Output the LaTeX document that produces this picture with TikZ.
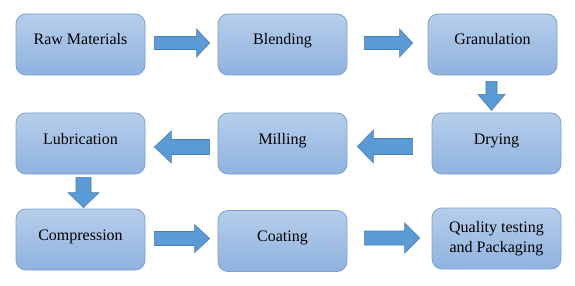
\documentclass[tikz,border=0pt]{standalone}
\usepackage{fontspec}
\setmainfont{Liberation Serif}
\usetikzlibrary{calc}
\definecolor{boxtop}{HTML}{B6CEEB}
\definecolor{boxbot}{HTML}{8FB2DF}
\definecolor{boxline}{HTML}{7BA1D1}
\definecolor{arrfill}{HTML}{5B9BD5}
\definecolor{arrline}{HTML}{4A7EB4}
\newcommand\blockarrow[5]{% from #1 to #2, shaft half width #3, head half width #4, head length #5
  \coordinate (neck) at ($(#2)!#5pt!(#1)$);
  \draw[arrowbody] ($(#1)!#3pt!90:(#2)$) -- ($(neck)!#3pt!90:(#2)$) -- ($(neck)!#4pt!90:(#2)$)
    -- (#2) -- ($(neck)!#4pt!-90:(#2)$) -- ($(neck)!#3pt!-90:(#2)$) -- ($(#1)!#3pt!-90:(#2)$) -- cycle;}
\begin{document}
\begin{tikzpicture}[x=1pt,y=-1pt,
  stepbox/.style={draw=boxline, line width=0.8pt, rounded corners=10pt,
    top color=boxtop, bottom color=boxbot, minimum width=129pt, minimum height=61pt,
    inner sep=0pt, font=\fontsize{16}{19.4}\selectfont},
  oneline/.style={text height=11.5pt, text depth=10.5pt},
  arrowbody/.style={fill=arrfill, draw=arrline, line width=0.6pt, line join=miter}]
\useasboundingbox[fill=white] (0,0) rectangle (575,286);

\node[stepbox, oneline] (rm) at (80.5,44.5) {Raw Materials};
\node[stepbox, oneline] (bl) at (282.5,44.5) {Blending};
\node[stepbox, oneline] (gr) at (492.5,44.5) {Granulation};
\node[stepbox, oneline] (dr) at (496.5,143.5) {Drying};
\node[stepbox, oneline] (mi) at (282.5,143.5) {Milling};
\node[stepbox, oneline] (lu) at (80.5,143.5) {Lubrication};
\node[stepbox, oneline] (co) at (80.5,239.5) {Compression};
\node[stepbox, oneline] (ct) at (282.5,241) {Coating};
\node[stepbox, align=center] (qp) at (496.5,238.5) {Quality testing\\and Packaging};

\coordinate (a1s) at ($(rm.east)+(9,-1.5)$);
\coordinate (a1e) at ($(bl.west)+(-8,-1.5)$);
\coordinate (a2s) at ($(bl.east)+(17,-1.5)$);
\coordinate (a2e) at ($(gr.west)+(-15,-1.5)$);
\coordinate (a3s) at ($(gr.south)+(-1,6)$);
\coordinate (a3e) at ($(gr.south)+(-1,35)$);
\coordinate (a4s) at ($(dr.west)+(-19,3)$);
\coordinate (a4e) at ($(mi.east)+(10,3)$);
\coordinate (a5s) at ($(mi.west)+(-8,3.5)$);
\coordinate (a5e) at ($(lu.east)+(9,3.5)$);
\coordinate (a6s) at ($(lu.south)+(3,3)$);
\coordinate (a6e) at ($(co.north)+(3,-1)$);
\coordinate (a7s) at ($(co.east)+(9,-1)$);
\coordinate (a7e) at ($(ct.west)+(-8,-2.5)$);
\coordinate (a8s) at ($(ct.east)+(17,-3)$);
\coordinate (a8e) at ($(qp.west)+(-12,-0.5)$);

\blockarrow{a1s}{a1e}{6.5}{14}{13}
\blockarrow{a2s}{a2e}{6.5}{14}{13}
\blockarrow{a3s}{a3e}{5.5}{13.5}{16}
\blockarrow{a4s}{a4e}{8}{16.5}{16}
\blockarrow{a5s}{a5e}{7.5}{16}{17}
\blockarrow{a6s}{a6e}{7.5}{15.5}{15}
\blockarrow{a7s}{a7e}{7}{14}{15}
\blockarrow{a8s}{a8e}{7}{15}{15}
\end{tikzpicture}
\end{document}
